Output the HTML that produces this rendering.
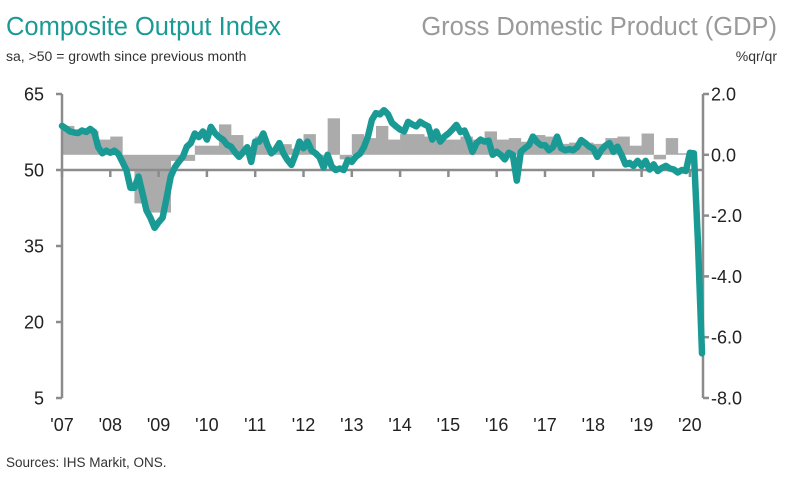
<!DOCTYPE html>
<html><head><meta charset="utf-8"><style>
body{margin:0;background:#fff;width:787px;height:479px;overflow:hidden}
svg text{font-family:"Liberation Sans",sans-serif}
</style></head><body>
<svg id="chart" width="787" height="479">
<text x="6" y="35" font-size="25.5" fill="#1a9a94">Composite Output Index</text>
<text x="777" y="35" font-size="25.5" fill="#9a9a9a" text-anchor="end">Gross Domestic Product (GDP)</text>
<text x="6" y="61" font-size="14" fill="#333">sa, &gt;50 = growth since previous month</text>
<text x="777" y="61" font-size="14" fill="#333" text-anchor="end">%qr/qr</text>
<text x="6" y="467" font-size="13.5" fill="#333">Sources: IHS Markit, ONS.</text>
<g id="bars"></g><g id="axes"></g><g id="line"></g>
</svg>
<script>
const pmiStartYear = 2007;
const pmi = [58.7,58.2,57.6,57.4,57.3,57.8,57.5,58.1,57.5,54.5,53.3,53.8,
53.4,53.8,53.2,51.6,50.0,46.5,46.5,48.7,45.4,42.0,40.5,38.6,
39.7,40.6,44.5,48.7,50.5,51.6,52.6,54.6,55.3,57.2,56.5,57.6,
56.0,58.5,57.3,56.5,56.0,55.0,54.6,53.5,52.6,53.5,54.5,51.6,
55.6,55.6,57.2,55.0,53.3,54.0,55.3,53.3,52.0,51.0,53.0,55.6,
54.3,55.6,53.8,53.3,52.5,50.5,53.0,50.7,50.0,50.3,50.0,52.0,
51.6,52.6,53.2,54.5,56.6,59.9,61.2,61.0,61.8,61.0,59.3,58.6,
58.0,57.6,59.5,59.0,58.6,59.5,59.0,58.6,56.0,57.6,55.6,56.6,
57.2,58.0,58.9,57.5,57.8,56.0,53.6,55.3,56.0,55.6,55.8,53.0,
53.6,53.0,52.1,53.4,53.0,47.9,53.6,54.3,54.9,56.6,55.5,54.9,
54.9,53.9,54.5,56.6,54.3,53.9,54.1,53.9,54.5,55.9,55.3,54.6,
54.2,52.6,53.9,54.8,55.3,53.6,54.6,53.0,51.1,51.4,50.8,51.8,
50.8,51.8,50.1,51.1,49.8,50.4,50.8,50.3,50.1,49.5,50.0,49.8,
53.4,53.3,36.0,13.8];
const gdp = [0.95,0.78,0.78,0.5, 0.6,-0.5,-1.6,-1.9, -1.9,-0.2,-0.2,0.3,
0.3,1.0,0.65,0.1, 0.6,0.2,0.35,0.2, 0.68,-0.1,1.2,-0.15,
0.68,0.55,0.95,0.5, 0.68,0.68,0.6,0.5, 0.5,0.6,0.5,0.77,
0.5,0.55,0.43,0.65, 0.6,0.36,0.4,0.4, 0.36,0.55,0.6,0.3,
0.7,-0.15,0.55,0.05];
const leftTicks = [65,50,35,20,5];
const rightTicks = [2,0,-2,-4,-6,-8];
const yearLabels = ["'07","'08","'09","'10","'11","'12","'13","'14","'15","'16","'17","'18","'19","'20"];

const NS="http://www.w3.org/2000/svg";
const X0=62, X1=703, YW=48.3;
const xT = t => X0 + t*YW;
const yL = v => 170 - (v-50)*5.067;
const yR = v => 154.8 - v*30.4;
function mk(tag, attrs, parent){const e=document.createElementNS(NS,tag);for(const k in attrs)e.setAttribute(k,attrs[k]);parent.appendChild(e);return e;}
const bars=document.getElementById('bars'), axes=document.getElementById('axes'), line=document.getElementById('line');

gdp.forEach((v,i)=>{
  const x=xT(i/4), w=YW/4+0.3, y0=yR(0), y1=yR(v);
  const r=mk('rect',{x:x,y:Math.min(y0,y1),width:w,height:Math.abs(y1-y0),fill:'#ababab'},bars);
  
  
});

const ax={stroke:'#8c8c8c','stroke-width':2.5,fill:'none'};
let a=mk('line',Object.assign({x1:X0,y1:yL(65),x2:X0,y2:yL(5)},ax),axes);

a=mk('line',Object.assign({x1:X1,y1:yR(2),x2:X1,y2:yR(-8)},ax),axes);

a=mk('line',Object.assign({x1:X0,y1:yL(50),x2:X1,y2:yL(50)},ax),axes);


leftTicks.forEach(v=>{
  mk('line',Object.assign({x1:X0-6,y1:yL(v),x2:X0,y2:yL(v)},ax),axes);
  const t=mk('text',{x:44,y:yL(v)+6.5,'font-size':18,fill:'#222','text-anchor':'end'},axes);
  t.textContent=v;
  
  
});
rightTicks.forEach(v=>{
  mk('line',Object.assign({x1:X1,y1:yR(v),x2:X1+6,y2:yR(v)},ax),axes);
  const t=mk('text',{x:711,y:yR(v)+6.5,'font-size':18,fill:'#222'},axes);
  t.textContent=v.toFixed(1);
  
  
});
yearLabels.forEach((s,i)=>{
  const x=xT(i);
  mk('line',Object.assign({x1:x,y1:yL(50),x2:x,y2:yL(50)+7},ax),axes);
  const t=mk('text',{x:x,y:431,'font-size':18,fill:'#222','text-anchor':'middle'},axes);
  t.textContent=s;
  
  
});

const d=pmi.map((v,i)=>(i?'L':'M')+xT(i/12).toFixed(1)+','+yL(v).toFixed(1)).join('');
const p=mk('path',{d:d,stroke:'#1a9a94','stroke-width':6.5,fill:'none','stroke-linejoin':'round','stroke-linecap':'round'},line);


</script>
</body></html>
